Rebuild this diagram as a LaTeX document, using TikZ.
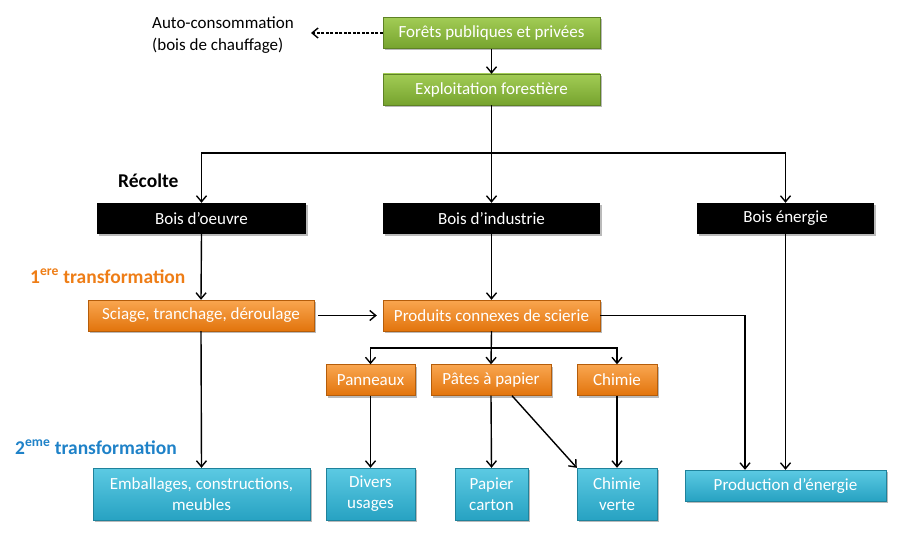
\documentclass[tikz,border=0pt]{standalone}
\usepackage{fontspec}
\setmainfont{Carlito}
\usetikzlibrary{arrows.meta,shadows,calc}
\definecolor{gtop}{HTML}{A2CC55}
\definecolor{gbot}{HTML}{76A32E}
\definecolor{otop}{HTML}{F9A650}
\definecolor{obot}{HTML}{E2740C}
\definecolor{btop}{HTML}{5CCAE3}
\definecolor{bbot}{HTML}{27A2C2}
\definecolor{lorange}{HTML}{EE7D16}
\definecolor{lblue}{HTML}{1F82C8}
\tikzset{
  box/.style={minimum height=31pt, inner sep=0pt, text=white, font=\fontsize{17}{21}\selectfont, align=center,
     drop shadow={shadow xshift=2pt, shadow yshift=-2pt, fill=black!45, opacity=0.6}},
  gbox/.style={box, top color=gtop, bottom color=gbot, draw=gbot!80!black, line width=0.4pt},
  kbox/.style={box, fill=black},
  obox/.style={box, top color=otop, bottom color=obot, draw=obot!80!black, line width=0.4pt},
  bbox/.style={box, top color=btop, bottom color=bbot, draw=bbot!80!black, line width=0.4pt},
  arr/.style={line width=1.4pt, -{Straight Barb[length=6pt,width=10pt,line width=1.4pt]}},
  lab/.style={font=\fontsize{19.5}{22}\selectfont\bfseries, anchor=west, inner sep=0pt}
}
\begin{document}
\begin{tikzpicture}[x=1pt,y=-1pt]
\useasboundingbox (0,0) rectangle (900,540);
% nodes
\node[gbox, minimum width=217pt] (forets) at (491.5,33) {Forêts publiques et privées};
\node[gbox, minimum width=217pt] (exploit) at (491.5,89.5) {Exploitation forestière};
\node[anchor=west, align=left, inner sep=0pt, font=\fontsize{17}{22}\selectfont] (auto) at (152,35) {Auto-consommation\\(bois de chauffage)};
\coordinate (autoend) at (311,33);

\node[lab] (recolte) at (118,181) {Récolte};
\node[lab, text=lorange] (t1) at (30,276) {1\textsuperscript{ere} transformation};
\node[lab, text=lblue] (t2) at (15,447) {2\textsuperscript{eme} transformation};

\node[kbox, minimum width=209pt] (boeuvre) at (201.5,218.5) {Bois d’oeuvre};
\node[kbox, minimum width=217pt] (bind) at (491.5,218.5) {Bois d’industrie};
\node[kbox, minimum width=177pt] (bener) at (785.5,218.5) {Bois énergie};

\node[obox, minimum width=226pt] (sciage) at (201,315.5) {Sciage, tranchage, déroulage};
\node[obox, minimum width=217pt] (produits) at (491.5,315.5) {Produits connexes de scierie};

\node[obox, minimum width=89pt] (pann) at (370.5,380) {Panneaux};
\node[obox, minimum width=120pt] (pates) at (491,380) {Pâtes à papier};
\node[obox, minimum width=80pt] (chimie) at (617,380) {Chimie};

\node[bbox, minimum width=217pt, minimum height=52pt] (emb) at (201.5,494) {Emballages, constructions,\\meubles};
\node[bbox, minimum width=89pt, minimum height=52pt] (divers) at (370.5,494) {Divers\\usages};
\node[bbox, minimum width=73pt, minimum height=52pt] (papier) at (491.5,494) {Papier\\carton};
\node[bbox, minimum width=80pt, minimum height=52pt] (chverte) at (617,494) {Chimie\\verte};
\node[bbox, minimum width=201pt] (prod) at (785.5,485.5) {Production d’énergie};

% connectors
\draw[arr, dash pattern=on 3pt off 1.5pt, line width=1.1pt] (forets.west) -- (autoend);
\draw[arr] (forets.south) -- (exploit.north);
\coordinate (hb) at (491.5,153);
\draw[arr] (exploit.south) -- (bind.north);
\draw[arr] (hb) -| (boeuvre.north);
\draw[arr] (hb) -| (bener.north);
\draw[arr] (boeuvre.south) -- (sciage.north);
\draw[arr] (bind.south) -- (produits.north);
\draw[arr] ($(sciage.east)+(4,0)$) -- ($(produits.west)+(-6,0)$);
\draw[arr] (produits.east) -| ($(prod.north)+(-40.5,0)$);
\coordinate (pb) at (491,348);
\draw[arr] (produits.south) -- (pates.north);
\draw[arr] (pb) -| (pann.north);
\draw[arr] (pb) -| (chimie.north);
\draw[arr] (sciage.south) -- (emb.north);
\draw[arr] (pann.south) -- (divers.north);
\draw[arr] (pates.south) -- (papier.north);
\draw[arr] ($(pates.south)+(21,0)$) -- (chverte.north west);
\draw[arr] (chimie.south) -- (chverte.north);
\draw[arr] (bener.south) -- (prod.north);
\end{tikzpicture}
\end{document}
